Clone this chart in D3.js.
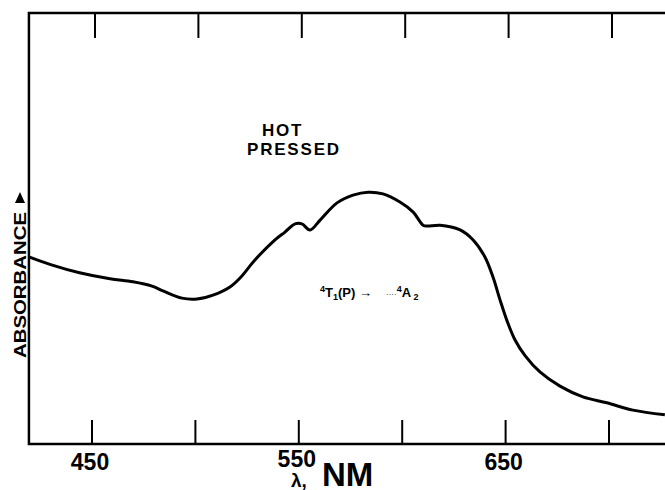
<html lang="en">
<head>
  <meta charset="UTF-8">
  <title>absorbance</title>
  <style>
    body { margin: 0; background: #fff; }
    svg { display: block; }
    .frame { fill: none; stroke: #000; stroke-width: 2.5; }
    .tick { stroke: #000; stroke-width: 2; }
    .curve { fill: none; stroke: #000; stroke-width: 3; stroke-linejoin: round; }
    text { font-family: "Liberation Sans", Arial, sans-serif; font-weight: bold; fill: #000; }
    .tick-label { font-size: 23px; text-anchor: middle; }
    .note { font-size: 17px; letter-spacing: 1.8px; }
    .trans { font-size: 13px; }
  </style>
</head>
<body>
  <script src="https://d3js.org/d3.v7.min.js"></script>
  <script>
    var width = 665, height = 490;

    // wavelength (nm) and absorbance (arbitrary units)
    var wavelength = [419.5, 430, 444, 458.7, 469.8, 479, 484.3, 493.5, 500.8, 508.5,
      516.7, 521.6, 528.8, 538.5, 543.3, 548.2, 551.5, 555.4, 560.3, 568.5,
      576.2, 583.5, 590.7, 598.9, 605.2, 610.1, 612, 618.3, 628, 634.2,
      640, 643.9, 647.3, 650.7, 654.5, 659.4, 666.6, 676.3, 687.4, 699, 711.6, 727];
    var absorbance = [0.436, 0.418, 0.399, 0.385, 0.378, 0.368, 0.357, 0.340, 0.338, 0.347,
      0.366, 0.387, 0.429, 0.476, 0.494, 0.513, 0.513, 0.499, 0.522, 0.562,
      0.580, 0.587, 0.583, 0.564, 0.541, 0.510, 0.508, 0.510, 0.499, 0.476,
      0.436, 0.389, 0.336, 0.287, 0.243, 0.206, 0.168, 0.135, 0.110, 0.096, 0.079, 0.068];
    var ticks = [450, 500, 550, 600, 650, 700];
    var tickLabels = ['450', '', '550', '', '650', ''];

    var x = d3.scaleLinear().domain([450, 700]).range([92, 609]);
    var y = d3.scaleLinear().domain([0, 1]).range([444, 15]);

    var frameLeft = x(419.5), frameRight = width, frameTop = 13, frameBottom = 444;

    var svg = d3.select('body').append('svg')
      .attr('width', width)
      .attr('height', height);

    // frame: top, left and bottom lines (open on the right)
    svg.append('path')
      .attr('class', 'frame')
      .attr('d', 'M' + frameRight + ',' + frameTop + 'H' + frameLeft + 'V' + frameBottom + 'H' + frameRight);

    svg.selectAll('.tick-bottom')
      .data(ticks)
      .enter().append('line')
      .attr('class', 'tick')
      .attr('x1', function(d) { return x(d); })
      .attr('x2', function(d) { return x(d); })
      .attr('y1', frameBottom)
      .attr('y2', frameBottom - 24);

    svg.selectAll('.tick-top')
      .data(ticks)
      .enter().append('line')
      .attr('class', 'tick')
      .attr('x1', function(d) { return x(d) + 3; })
      .attr('x2', function(d) { return x(d) + 3; })
      .attr('y1', frameTop)
      .attr('y2', frameTop + 25);

    svg.selectAll('.tick-label')
      .data(ticks)
      .enter().append('text')
      .attr('class', 'tick-label')
      .attr('x', function(d) { return x(d) - 2; })
      .attr('y', function(d) { return d === 550 ? 467 : 470; })
      .text(function(d, i) { return tickLabels[i]; });

    // x axis title
    svg.append('text')
      .attr('x', 291)
      .attr('y', 487)
      .style('font-size', '19px')
      .text('λ,');
    svg.append('text')
      .attr('x', 322)
      .attr('y', 486)
      .style('font-size', '33px')
      .text('NM');

    // y axis title with arrow
    svg.append('text')
      .attr('transform', 'translate(26,285) rotate(-90)')
      .attr('text-anchor', 'middle')
      .attr('textLength', 146)
      .attr('lengthAdjust', 'spacingAndGlyphs')
      .style('font-size', '17px')
      .text('ABSORBANCE');
    svg.append('path')
      .attr('d', 'M20,192 L25,203 L15,203 Z')
      .attr('fill', '#000');

    var data = wavelength.map(function(w, i) { return [w, absorbance[i]]; });
    var line = d3.line()
      .x(function(d) { return x(d[0]); })
      .y(function(d) { return y(d[1]); })
      .curve(d3.curveCatmullRom.alpha(0.5));

    svg.append('path')
      .datum(data)
      .attr('class', 'curve')
      .attr('d', line);

    svg.append('text').attr('class', 'note').attr('x', 262).attr('y', 136).text('HOT');
    svg.append('text').attr('class', 'note').attr('x', 247).attr('y', 155).text('PRESSED');

    // transition label
    var t1 = svg.append('text').attr('class', 'trans').attr('x', 320).attr('y', 297);
    t1.append('tspan').attr('dy', -5).style('font-size', '9px').text('4');
    t1.append('tspan').attr('dy', 5).text('T');
    t1.append('tspan').attr('dy', 3).style('font-size', '9px').text('1');
    t1.append('tspan').attr('dy', -3).text('(P) →');

    var t2 = svg.append('text').attr('class', 'trans').attr('x', 386).attr('y', 297);
    t2.append('tspan').style('font-size', '8px').style('font-weight', 'normal').text('····');
    t2.append('tspan').attr('dy', -5).style('font-size', '9px').text('4');
    t2.append('tspan').attr('dy', 5).text('A');
    t2.append('tspan').attr('dy', 3).style('font-size', '9px').text(' 2');
  </script>
</body>
</html>
